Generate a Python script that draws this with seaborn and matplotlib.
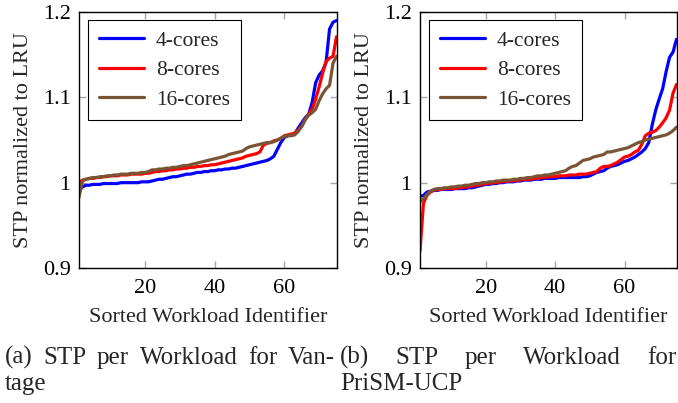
import numpy as np
import pandas as pd
import matplotlib
matplotlib.use("Agg")
import matplotlib.pyplot as plt
import seaborn as sns

# Sorted per-workload STP (normalized to LRU), 75 workloads per configuration
workloads = list(range(1, 76))
series_names = ["4-cores", "8-cores", "16-cores"]

vantage_4 = [
    0.991, 0.995, 0.997, 0.997, 0.998, 0.998, 0.998, 0.999, 0.999, 0.999,
    0.999, 0.999, 1.000, 1.000, 1.000, 1.000, 1.000, 1.000, 1.001, 1.001,
    1.001, 1.002, 1.003, 1.004, 1.004, 1.005, 1.006, 1.007, 1.007, 1.008,
    1.009, 1.010, 1.010, 1.011, 1.012, 1.012, 1.013, 1.013, 1.014, 1.014,
    1.015, 1.015, 1.016, 1.016, 1.017, 1.017, 1.018, 1.019, 1.020, 1.021,
    1.022, 1.023, 1.024, 1.025, 1.026, 1.028, 1.031, 1.039, 1.047, 1.053,
    1.055, 1.056, 1.057, 1.064, 1.070, 1.076, 1.080, 1.094, 1.117, 1.126,
    1.131, 1.141, 1.180, 1.188, 1.190,
]
vantage_8 = [
    1.000, 1.003, 1.004, 1.005, 1.005, 1.006, 1.006, 1.007, 1.007, 1.008,
    1.008, 1.008, 1.009, 1.009, 1.009, 1.010, 1.010, 1.010, 1.010, 1.011,
    1.011, 1.012, 1.013, 1.013, 1.014, 1.014, 1.015, 1.015, 1.016, 1.016,
    1.017, 1.017, 1.018, 1.018, 1.019, 1.019, 1.020, 1.020, 1.021, 1.021,
    1.022, 1.023, 1.024, 1.025, 1.026, 1.027, 1.028, 1.029, 1.031, 1.032,
    1.033, 1.034, 1.036, 1.044, 1.046, 1.047, 1.049, 1.050, 1.052, 1.055,
    1.056, 1.057, 1.058, 1.062, 1.066, 1.074, 1.080, 1.086, 1.098, 1.112,
    1.128, 1.142, 1.146, 1.148, 1.171,
]
vantage_16 = [
    0.983, 1.002, 1.004, 1.005, 1.006, 1.006, 1.007, 1.007, 1.008, 1.008,
    1.009, 1.009, 1.010, 1.010, 1.010, 1.011, 1.011, 1.011, 1.012, 1.012,
    1.013, 1.015, 1.015, 1.016, 1.016, 1.017, 1.017, 1.018, 1.018, 1.019,
    1.020, 1.020, 1.021, 1.022, 1.023, 1.024, 1.025, 1.026, 1.027, 1.028,
    1.029, 1.030, 1.031, 1.033, 1.034, 1.035, 1.036, 1.037, 1.040, 1.042,
    1.043, 1.044, 1.045, 1.046, 1.047, 1.047, 1.048, 1.050, 1.052, 1.054,
    1.055, 1.055, 1.056, 1.060, 1.066, 1.074, 1.079, 1.082, 1.086, 1.096,
    1.104, 1.110, 1.114, 1.140, 1.148,
]

prism_4 = [
    0.984, 0.985, 0.989, 0.990, 0.991, 0.991, 0.992, 0.992, 0.992, 0.992,
    0.993, 0.993, 0.993, 0.993, 0.994, 0.994, 0.995, 0.996, 0.997, 0.998,
    0.998, 0.999, 0.999, 1.000, 1.000, 1.001, 1.001, 1.001, 1.002, 1.002,
    1.003, 1.003, 1.003, 1.004, 1.004, 1.004, 1.005, 1.005, 1.005, 1.005,
    1.006, 1.006, 1.006, 1.006, 1.006, 1.006, 1.006, 1.007, 1.007, 1.008,
    1.010, 1.012, 1.013, 1.014, 1.017, 1.019, 1.020, 1.021, 1.023, 1.025,
    1.026, 1.028, 1.030, 1.033, 1.036, 1.040, 1.047, 1.068, 1.085, 1.098,
    1.110, 1.130, 1.147, 1.153, 1.168,
]
prism_8 = [
    0.920, 0.976, 0.985, 0.989, 0.991, 0.992, 0.992, 0.993, 0.993, 0.993,
    0.993, 0.994, 0.994, 0.995, 0.995, 0.996, 0.997, 0.997, 0.998, 0.999,
    0.999, 1.000, 1.000, 1.001, 1.001, 1.002, 1.002, 1.002, 1.003, 1.003,
    1.004, 1.004, 1.004, 1.005, 1.005, 1.006, 1.006, 1.007, 1.007, 1.007,
    1.008, 1.008, 1.008, 1.009, 1.009, 1.009, 1.010, 1.010, 1.010, 1.011,
    1.012, 1.013, 1.017, 1.019, 1.019, 1.020, 1.022, 1.024, 1.027, 1.030,
    1.031, 1.033, 1.036, 1.038, 1.045, 1.055, 1.058, 1.059, 1.061, 1.065,
    1.070, 1.076, 1.085, 1.105, 1.115,
]
prism_16 = [
    0.978, 0.981, 0.986, 0.990, 0.992, 0.993, 0.993, 0.994, 0.994, 0.995,
    0.995, 0.996, 0.996, 0.997, 0.997, 0.998, 0.999, 0.999, 1.000, 1.000,
    1.001, 1.001, 1.002, 1.002, 1.003, 1.003, 1.003, 1.004, 1.004, 1.005,
    1.005, 1.006, 1.006, 1.007, 1.008, 1.008, 1.009, 1.009, 1.010, 1.011,
    1.012, 1.013, 1.014, 1.017, 1.019, 1.020, 1.023, 1.026, 1.027, 1.028,
    1.030, 1.031, 1.032, 1.033, 1.036, 1.036, 1.037, 1.038, 1.039, 1.040,
    1.041, 1.043, 1.045, 1.047, 1.048, 1.050, 1.051, 1.052, 1.053, 1.054,
    1.055, 1.056, 1.058, 1.061, 1.065,
]

x_ticks = [20, 40, 60]
y_ticks = [0.9, 1.0, 1.1, 1.2]
y_tick_labels = ["0.9", "1", "1.1", "1.2"]

palette = {"4-cores": "#0000ff", "8-cores": "#ff0000", "16-cores": "#7a5535"}


def long_frame(values_by_series):
    parts = []
    for name, vals in zip(series_names, values_by_series):
        parts.append(pd.DataFrame({"workload": workloads, "stp": vals, "config": name}))
    return pd.concat(parts, ignore_index=True)


sns.set_style("ticks")
plt.rcParams["font.family"] = ["Liberation Serif", "DejaVu Serif"]

W, H = 678, 403
fig = plt.figure(figsize=(W / 100, H / 100), dpi=100)


def px_axes(left, top, right, bottom):
    return fig.add_axes([left / W, 1 - bottom / H, (right - left) / W, (bottom - top) / H])


ax_a = px_axes(79, 12, 336.5, 268)
ax_b = px_axes(420, 12, 676.5, 268)

for ax, data in ((ax_a, [vantage_4, vantage_8, vantage_16]),
                 (ax_b, [prism_4, prism_8, prism_16])):
    df = long_frame(data)
    sns.lineplot(data=df, x="workload", y="stp", hue="config", hue_order=series_names,
                 palette=palette, errorbar=None, linewidth=2.3, ax=ax)
    ax.set_xlim(1, 75)
    ax.set_ylim(0.9, 1.2)
    ax.set_xticks(x_ticks)
    ax.set_xticklabels([str(t) for t in x_ticks])
    ax.set_yticks(y_ticks)
    ax.set_yticklabels(y_tick_labels)
    ax.tick_params(direction="in", length=5, width=1, color="0.65",
                   top=True, right=True, labelsize=16, labelcolor="black", pad=6)
    ax.tick_params(axis="x", pad=8)
    for sp in ax.spines.values():
        sp.set_visible(True)
        sp.set_color("black")
        sp.set_linewidth(1.0)
    ax.set_xlabel("Sorted Workload Identifier", fontsize=16, labelpad=7)
    ax.set_ylabel("STP normalized to LRU", fontsize=16, labelpad=7)
    handles, labels = ax.get_legend_handles_labels()
    leg = ax.legend(handles, labels, loc="upper left", bbox_to_anchor=(0.035, 0.968),
                    fontsize=15.5, frameon=True, fancybox=False, framealpha=1,
                    edgecolor="black", handlelength=2.1, handletextpad=0.55,
                    labelspacing=0.43, borderpad=0.5, borderaxespad=0)
    leg.get_frame().set_linewidth(0.8)
    for line in leg.get_lines():
        line.set_linewidth(2.3)

renderer = fig.canvas.get_renderer()


def justified_line(words, left, right, baseline):
    """Spread the words so the line fills the column from left to right."""
    texts = [fig.text(0, 1 - baseline / H, w, fontsize=18, ha="left", va="baseline")
             for w in words]
    widths = [t.get_window_extent(renderer).width for t in texts]
    gap = (right - left - sum(widths)) / (len(words) - 1)
    x = left
    for t, w in zip(texts, widths):
        t.set_x(x / W)
        x += w + gap


def plain_line(text, left, baseline):
    fig.text(left / W, 1 - baseline / H, text, fontsize=18, ha="left", va="baseline")


justified_line(["(a)", "STP", "per", "Workload", "for", "Van-"], 5, 335, 364)
plain_line("tage", 5, 390)
justified_line(["(b)", "STP", "per", "Workload", "for"], 340, 676, 364)
plain_line("PriSM-UCP", 340, 390)

fig.savefig("out.png", dpi=100)
